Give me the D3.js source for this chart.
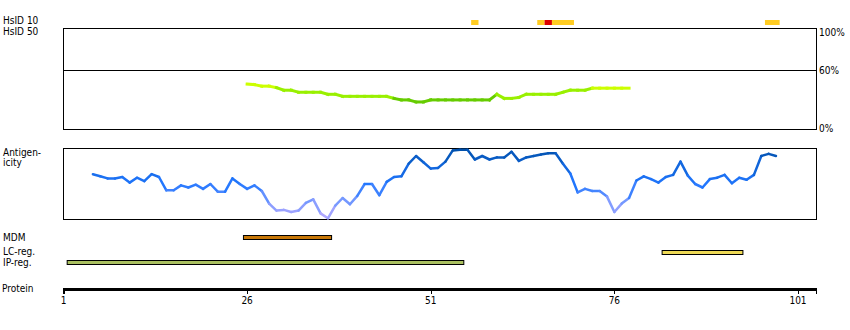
<!DOCTYPE html>
<html>
<head>
<meta charset="utf-8">
<script src="https://d3js.org/d3.v7.min.js"></script>
<style>
  body { margin: 0; background: #fff; }
  text { font-family: "Liberation Sans Narrow", "DejaVu Sans Condensed", "Liberation Sans", sans-serif; font-size: 10px; fill: #000; }
</style>
</head>
<body>
<svg id="chart" width="850" height="330"></svg>
<script>
// residue ticks on the protein axis
var tickResidues = [1, 26, 51, 76, 101];

// HsID 10 hits: [start, end, level]
var hsid10 = [[57, 57, "mid"], [66, 66, "mid"], [67, 67, "high"], [68, 70, "mid"], [97, 98, "mid"]];

// HsID 50 conservation (%) for residues 26..78
var consStart = 26;
var consValues = [45, 44.5, 43, 43, 41.5, 39, 39, 37, 37, 37, 37, 35, 35, 33, 33,
  33, 33, 33, 33, 33, 31, 29.5, 29.5, 27.5, 27.5, 29.5, 29.5, 29.5, 29.5, 29.5,
  29.5, 29.5, 29.5, 29.5, 35, 31, 31, 32, 35, 35, 35, 35, 35, 37, 39, 39, 39,
  41, 41, 41, 41, 41, 41];
var percentTicks = [100, 60, 0];

// antigenicity for residues 5..98 (0-100)
var antStart = 5;
var antValues = [64, 61, 58, 58, 60, 52, 59, 54, 64, 60, 41, 41, 48, 45, 49, 43,
  50, 39, 39, 58, 50, 43, 48, 40, 22, 12, 13, 10, 12, 23, 28, 8, 1, 19, 30, 21,
  33, 50, 50, 34, 53, 60, 61, 79, 90, 81, 72, 73, 82, 98, 99, 99, 85, 90, 85,
  88, 88, 96, 83, 88, 90, 92, 94, 94, 79, 65, 38, 43, 40, 40, 32, 10, 22, 30,
  55, 61, 57, 52, 60, 63, 82, 62, 50, 45, 57, 59, 63, 51, 59, 56, 63, 90, 93, 90];

// annotated regions
var features = [
  { name: "MDM", start: 26, end: 37, color: "#c87808" },
  { name: "LC-reg.", start: 83, end: 93, color: "#eed955" },
  { name: "IP-reg.", start: 2, end: 55, color: "#aac060" }
];

var svg = d3.select("#chart");
var x = d3.scaleLinear().domain([1, 101]).range([63.5, 798]);
var left = 63, right = 817;

// ---- HsID labels and hit strip
svg.append("text").attr("x", 3).attr("y", 24).text("HsID 10");
svg.append("text").attr("x", 3).attr("y", 35).text("HsID 50");

var hitColor = { mid: "#ffcc22", high: "#dd0000" };
svg.selectAll(".hit")
  .data(hsid10)
  .enter().append("rect")
  .attr("class", "hit")
  .attr("x", function (d) { return x(d[0] - 0.5); })
  .attr("y", 20)
  .attr("width", function (d) { return x(d[1] + 0.5) - x(d[0] - 0.5); })
  .attr("height", 5)
  .attr("fill", function (d) { return hitColor[d[2]]; });

// ---- conservation box
var yCons = d3.scaleLinear().domain([0, 100]).range([130, 28]);
svg.append("rect")
  .attr("x", left + 0.5).attr("y", 28.5)
  .attr("width", right - left - 1).attr("height", 101)
  .attr("fill", "none").attr("stroke", "#000").attr("stroke-width", 1);
svg.append("line")
  .attr("x1", left).attr("x2", right)
  .attr("y1", 70.5).attr("y2", 70.5)
  .attr("stroke", "#000");

var pctY = { 100: 36, 60: 74, 0: 132 };
svg.selectAll(".pct")
  .data(percentTicks)
  .enter().append("text")
  .attr("class", "pct")
  .attr("x", 819)
  .attr("y", function (d) { return pctY[d]; })
  .text(function (d) { return d + "%"; });

function consColor(v) {
  if (v >= 40) return "#ccff00";
  if (v >= 30) return "#99f000";
  return "#66cc00";
}
var consSeg = [];
for (var i = 0; i < consValues.length - 1; i++) {
  consSeg.push([consStart + i, consValues[i], consValues[i + 1]]);
}
svg.selectAll(".cons")
  .data(consSeg)
  .enter().append("line")
  .attr("class", "cons")
  .attr("x1", function (d) { return x(d[0]); })
  .attr("x2", function (d) { return x(d[0] + 1); })
  .attr("y1", function (d) { return yCons(d[1]); })
  .attr("y2", function (d) { return yCons(d[2]); })
  .attr("stroke", function (d) { return consColor(Math.min(d[1], d[2])); })
  .attr("stroke-width", 3)
  .attr("stroke-linecap", "square");

// ---- antigenicity box
var yAnt = d3.scaleLinear().domain([0, 100]).range([219, 149]);
svg.append("text").attr("x", 3).attr("y", 156).text("Antigen-");
svg.append("text").attr("x", 3).attr("y", 166).text("icity");
svg.append("rect")
  .attr("x", left + 0.5).attr("y", 148.5)
  .attr("width", right - left - 1).attr("height", 71)
  .attr("fill", "none").attr("stroke", "#000").attr("stroke-width", 1);

var antColor = d3.scaleLinear()
  .domain([0, 25, 50, 75, 100])
  .range(["#bbaaff", "#7799ff", "#2277ff", "#1166dd", "#0050aa"]);
var antSeg = [];
for (var j = 0; j < antValues.length - 1; j++) {
  antSeg.push([antStart + j, antValues[j], antValues[j + 1]]);
}
svg.selectAll(".ant")
  .data(antSeg)
  .enter().append("line")
  .attr("class", "ant")
  .attr("x1", function (d) { return x(d[0]); })
  .attr("x2", function (d) { return x(d[0] + 1); })
  .attr("y1", function (d) { return yAnt(d[1]); })
  .attr("y2", function (d) { return yAnt(d[2]); })
  .attr("stroke", function (d) { return antColor((d[1] + d[2]) / 2); })
  .attr("stroke-width", 2.5)
  .attr("stroke-linecap", "round");

// ---- feature bars
var featY = { "MDM": 235, "LC-reg.": 250, "IP-reg.": 260 };
var labelY = { "MDM": 241, "LC-reg.": 255, "IP-reg.": 266 };
svg.selectAll(".flabel")
  .data(features)
  .enter().append("text")
  .attr("class", "flabel")
  .attr("x", 3)
  .attr("y", function (d) { return labelY[d.name]; })
  .text(function (d) { return d.name; });
svg.selectAll(".feat")
  .data(features)
  .enter().append("rect")
  .attr("class", "feat")
  .attr("x", function (d) { return x(d.start - 0.5); })
  .attr("y", function (d) { return featY[d.name] + 0.5; })
  .attr("width", function (d) { return x(d.end + 0.5) - x(d.start - 0.5); })
  .attr("height", 4)
  .attr("fill", function (d) { return d.color; })
  .attr("stroke", "#000")
  .attr("stroke-width", 1);

// ---- protein axis
svg.append("text").attr("x", 2).attr("y", 292).text("Protein");
svg.append("line")
  .attr("x1", left).attr("x2", right)
  .attr("y1", 289.5).attr("y2", 289.5)
  .attr("stroke", "#000").attr("stroke-width", 3);
svg.append("line")
  .attr("x1", left + 0.5).attr("x2", left + 0.5)
  .attr("y1", 288).attr("y2", 294)
  .attr("stroke", "#000");
svg.append("line")
  .attr("x1", right - 0.5).attr("x2", right - 0.5)
  .attr("y1", 288).attr("y2", 294)
  .attr("stroke", "#000");
svg.selectAll(".tick")
  .data(tickResidues)
  .enter().append("line")
  .attr("class", "tick")
  .attr("x1", function (d) { return Math.round(x(d)) + 0.5; })
  .attr("x2", function (d) { return Math.round(x(d)) + 0.5; })
  .attr("y1", 288).attr("y2", 294)
  .attr("stroke", "#000");
svg.selectAll(".tlabel")
  .data(tickResidues)
  .enter().append("text")
  .attr("class", "tlabel")
  .attr("x", function (d) { return x(d); })
  .attr("y", 304)
  .attr("text-anchor", "middle")
  .text(function (d) { return d; });
</script>
</body>
</html>
